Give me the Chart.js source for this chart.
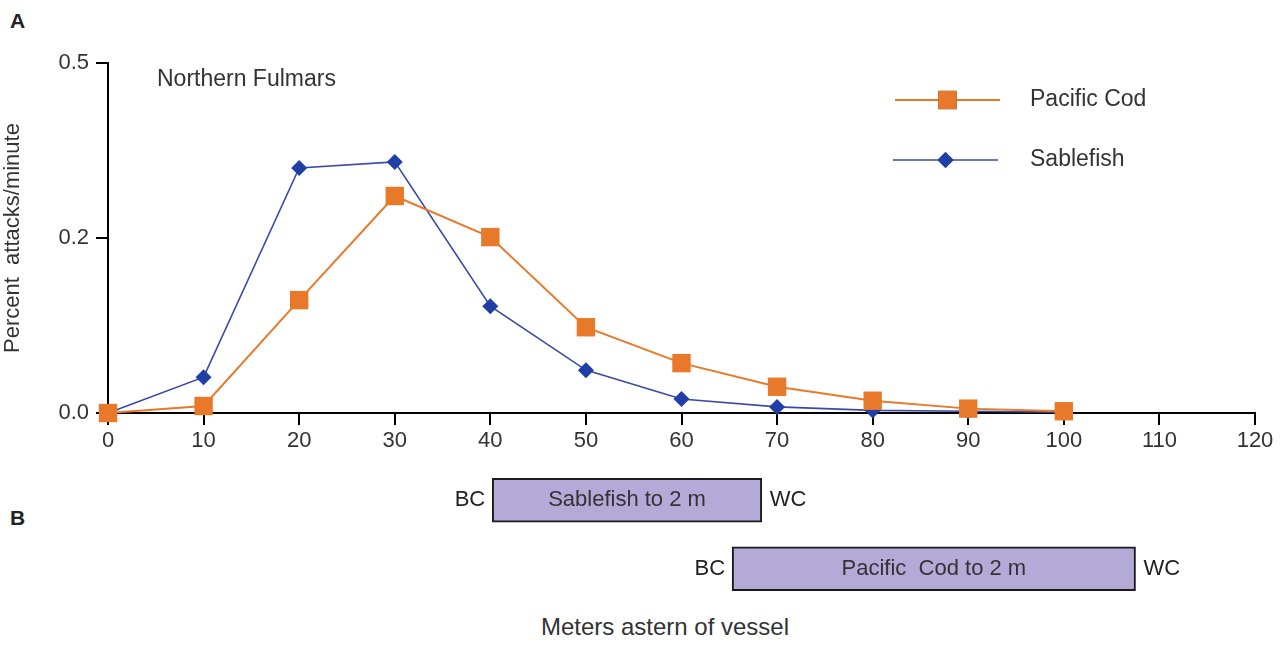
<!DOCTYPE html>
<html>
<head>
<meta charset="utf-8">
<title>Northern Fulmars attacks astern of vessel</title>
<script src="https://cdn.jsdelivr.net/npm/chart.js@4.4.1/dist/chart.umd.min.js"></script>
<style>
  html, body { margin: 0; padding: 0; background: #fff; }
  body { width: 1281px; height: 645px; position: relative; overflow: hidden;
         font-family: "Liberation Sans", Arial, sans-serif; color: #333; }
  #wrapA { position: absolute; left: 0; top: 0; width: 1281px; height: 470px; }
  #wrapB { position: absolute; left: 0; top: 466px; width: 1281px; height: 137px; }
  .panel { position: absolute; font-weight: bold; font-size: 21px; color: #222; }
  #xTitle { position: absolute; top: 613px; left: 465px; width: 400px; text-align: center; font-size: 24px; }
</style>
</head>
<body>
<div class="panel" style="left:10px; top:9px;">A</div>
<div class="panel" style="left:10px; top:506px;">B</div>
<div id="wrapA"><canvas id="chartA"></canvas></div>
<div id="wrapB"><canvas id="chartB"></canvas></div>
<div id="xTitle">Meters astern of vessel</div>
<script>
// Data
const distances = [0, 10, 20, 30, 40, 50, 60, 70, 80, 90, 100];
const pacificCod = [0, 0.008, 0.129, 0.248, 0.201, 0.098, 0.057, 0.030, 0.014, 0.005, 0.002];
const sablefish = [0, 0.041, 0.280, 0.287, 0.122, 0.049, 0.016, 0.007, 0.003, 0.002, 0.001];
const yTickLabels = ['0.0', '0.2', '0.5'];
const xTicks = [0, 10, 20, 30, 40, 50, 60, 70, 80, 90, 100, 110, 120];

// Panel B: distance ranges (BC to WC)
const rangeLabels = ['Sablefish to 2 m', 'Pacific  Cod to 2 m'];
const rangeStart = [40.2, 65.3];
const rangeEnd = [68.4, 107.5];

const orange = '#e8792a';
const blueLine = '#3a4aa6';
const blueFill = '#1f3ea6';
const font = '"Liberation Sans", Arial, sans-serif';

function toPoints(xs, ys) {
    return xs.map((x, i) => ({ x: x, y: ys[i] }));
}

// Legend + annotation drawn inside panel A
const legendPlugin = {
    id: 'legendPlugin',
    afterDraw(chart) {
        const ctx = chart.ctx;
        ctx.save();
        ctx.font = '23px ' + font;
        ctx.fillStyle = '#333';
        ctx.textBaseline = 'middle';
        ctx.textAlign = 'left';
        ctx.fillText('Northern Fulmars', 157, 80);

        const items = [
            { y: 100, x1: 895, x2: 1000, label: 'Pacific Cod', ds: 0 },
            { y: 160, x1: 893, x2: 998, label: 'Sablefish', ds: 1 }
        ];
        items.forEach(it => {
            const ds = chart.data.datasets[it.ds];
            ctx.strokeStyle = ds.borderColor;
            ctx.lineWidth = ds.borderWidth;
            ctx.beginPath();
            ctx.moveTo(it.x1, it.y);
            ctx.lineTo(it.x2, it.y);
            ctx.stroke();
            Chart.helpers.drawPoint(ctx, {
                pointStyle: ds.pointStyle,
                radius: ds.pointRadius,
                borderWidth: 0,
                rotation: 0
            }, (it.x1 + it.x2) / 2, it.y);
            ctx.fillStyle = ds.pointBackgroundColor;
            ctx.fill();
            ctx.fillStyle = '#333';
            ctx.fillText(it.label, 1030, it.y);
        });
        ctx.restore();
    }
};

new Chart(document.getElementById('chartA'), {
    type: 'scatter',
    data: {
        datasets: [
            {
                label: 'Pacific Cod',
                data: toPoints(distances, pacificCod),
                showLine: true,
                borderColor: orange,
                borderWidth: 2,
                pointStyle: 'rect',
                pointRadius: 13,
                pointBackgroundColor: orange,
                pointBorderWidth: 0,
                clip: false
            },
            {
                label: 'Sablefish',
                data: toPoints(distances, sablefish),
                showLine: true,
                borderColor: blueLine,
                borderWidth: 1.6,
                pointStyle: 'rectRot',
                pointRadius: 8,
                pointBackgroundColor: blueFill,
                pointBorderWidth: 0,
                clip: false
            }
        ]
    },
    options: {
        responsive: true,
        maintainAspectRatio: false,
        animation: false,
        layout: { padding: { top: 63, right: 26, left: 0, bottom: 0 } },
        plugins: {
            legend: { display: false },
            tooltip: { enabled: false }
        },
        scales: {
            x: {
                type: 'linear',
                min: 0,
                max: 120,
                afterBuildTicks: (scale) => { scale.ticks = xTicks.map(v => ({ value: v })); },
                afterFit: (scale) => { scale.height = 57; },
                border: { display: true, color: '#000', width: 2 },
                grid: { drawOnChartArea: false, drawTicks: true, tickLength: 12, color: '#000', lineWidth: 2 },
                ticks: { color: '#333', font: { family: font, size: 22 }, padding: 3, maxRotation: 0 }
            },
            y: {
                type: 'linear',
                min: 0,
                max: 0.4,
                afterBuildTicks: (scale) => { scale.ticks = [0, 0.2, 0.4].map(v => ({ value: v })); },
                afterFit: (scale) => { scale.width = 108; },
                border: { display: true, color: '#000', width: 2 },
                grid: { drawOnChartArea: false, drawTicks: true, tickLength: 12, color: '#000', lineWidth: 2 },
                ticks: {
                    color: '#333',
                    font: { family: font, size: 22 },
                    padding: 7,
                    callback: (value, index) => yTickLabels[index]
                },
                title: {
                    display: true,
                    text: 'Percent  attacks/minute',
                    color: '#333',
                    font: { family: font, size: 22 },
                    padding: { top: 0, bottom: 0 }
                }
            }
        }
    },
    plugins: [legendPlugin]
});

// BC / WC labels and text inside the bars of panel B
const rangeTextPlugin = {
    id: 'rangeText',
    afterDatasetsDraw(chart) {
        const ctx = chart.ctx;
        const meta = chart.getDatasetMeta(0);
        ctx.save();
        ctx.font = '22px ' + font;
        ctx.textBaseline = 'middle';
        meta.data.forEach((bar, i) => {
            const left = Math.min(bar.x, bar.base);
            const right = Math.max(bar.x, bar.base);
            ctx.fillStyle = '#333';
            ctx.textAlign = 'center';
            ctx.fillText(rangeLabels[i], (left + right) / 2, bar.y);
            ctx.fillStyle = '#222';
            ctx.textAlign = 'right';
            ctx.fillText('BC', left - 7, bar.y);
            ctx.textAlign = 'left';
            ctx.fillText('WC', right + 8, bar.y);
        });
        ctx.restore();
    }
};

new Chart(document.getElementById('chartB'), {
    type: 'bar',
    data: {
        labels: rangeLabels,
        datasets: [{
            data: rangeStart.map((s, i) => [s, rangeEnd[i]]),
            backgroundColor: '#b3aad8',
            borderColor: '#1a1a1a',
            borderWidth: 2,
            borderSkipped: false,
            barThickness: 44
        }]
    },
    options: {
        indexAxis: 'y',
        responsive: true,
        maintainAspectRatio: false,
        animation: false,
        layout: { padding: { left: 108, right: 26, top: 0, bottom: 0 } },
        plugins: {
            legend: { display: false },
            tooltip: { enabled: false }
        },
        scales: {
            x: { type: 'linear', min: 0, max: 120, display: false },
            y: { display: false }
        }
    },
    plugins: [rangeTextPlugin]
});
</script>
</body>
</html>
